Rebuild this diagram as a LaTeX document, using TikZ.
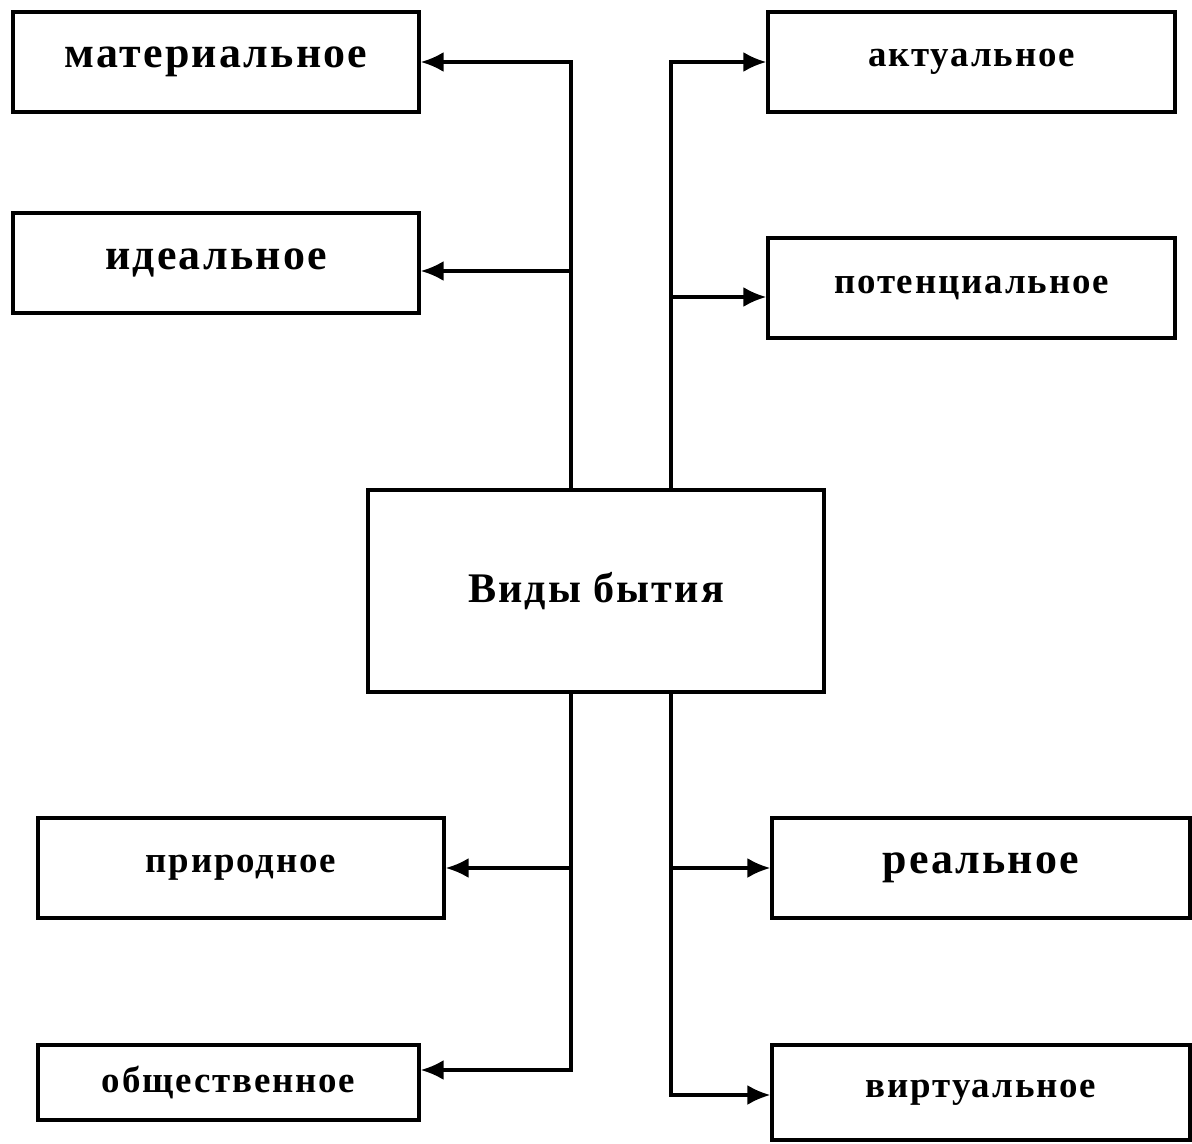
\documentclass[tikz,border=0pt]{standalone}
\usepackage{fontspec}
\setmainfont[LetterSpace=5]{Liberation Serif}
\usetikzlibrary{arrows.meta}

\begin{document}
\begin{tikzpicture}[x=0.02cm, y=-0.02cm, line width=1.9pt,
  box/.style={draw, rectangle, inner sep=0pt, font=\bfseries\fontsize{21}{25}\selectfont},
  bigbox/.style={box, font=\bfseries\fontsize{25}{29}\selectfont},
  arr/.style={-{Latex[length=0.46cm,width=0.4cm]}}]
  \useasboundingbox (0,0) rectangle (1192,1143);
  \node[bigbox, minimum width=8.12cm, minimum height=2cm] (mat) at (216,62) {материальное};
  \node[bigbox, minimum width=8.12cm, minimum height=2cm] (ideal) at (216,263) {идеальное};
  \node[box, minimum width=8.12cm, minimum height=2cm] (prir) at (241,868) {природное};
  \node[box, minimum width=7.62cm, minimum height=1.5cm] (obsh) at (228.5,1082.5) {общественное};
  \node[box, minimum width=8.14cm, minimum height=2cm] (akt) at (971.5,62) {актуальное};
  \node[box, minimum width=8.14cm, minimum height=2cm] (pot) at (971.5,288) {потенциальное};
  \node[bigbox, minimum width=8.36cm, minimum height=2cm] (real) at (981,868) {реальное};
  \node[box, minimum width=8.36cm, minimum height=1.9cm] (virt) at (981,1092.5) {виртуальное};
  \node[box, font=\bfseries\fontsize{24}{28}\selectfont, minimum width=9.12cm, minimum height=4.04cm] (vid) at (596,591) {Виды бытия};
  \coordinate (L) at (571,0);
  \coordinate (R) at (671,0);
  % left branches
  \draw[arr] (vid.north -| L) |- (mat.east);
  \draw[arr] ([yshift=-0.16cm]ideal.east -| L) -- ([yshift=-0.16cm]ideal.east);
  \draw[arr] (vid.south -| L) |- ([yshift=0.25cm]obsh.east);
  \draw[arr] (prir.east -| L) -- (prir.east);
  % right branches
  \draw[arr] (vid.north -| R) |- (akt.west);
  \draw[arr] ([yshift=-0.18cm]pot.west -| R) -- ([yshift=-0.18cm]pot.west);
  \draw[arr] (vid.south -| R) |- ([yshift=-0.05cm]virt.west);
  \draw[arr] (real.west -| R) -- (real.west);
\end{tikzpicture}
\end{document}
